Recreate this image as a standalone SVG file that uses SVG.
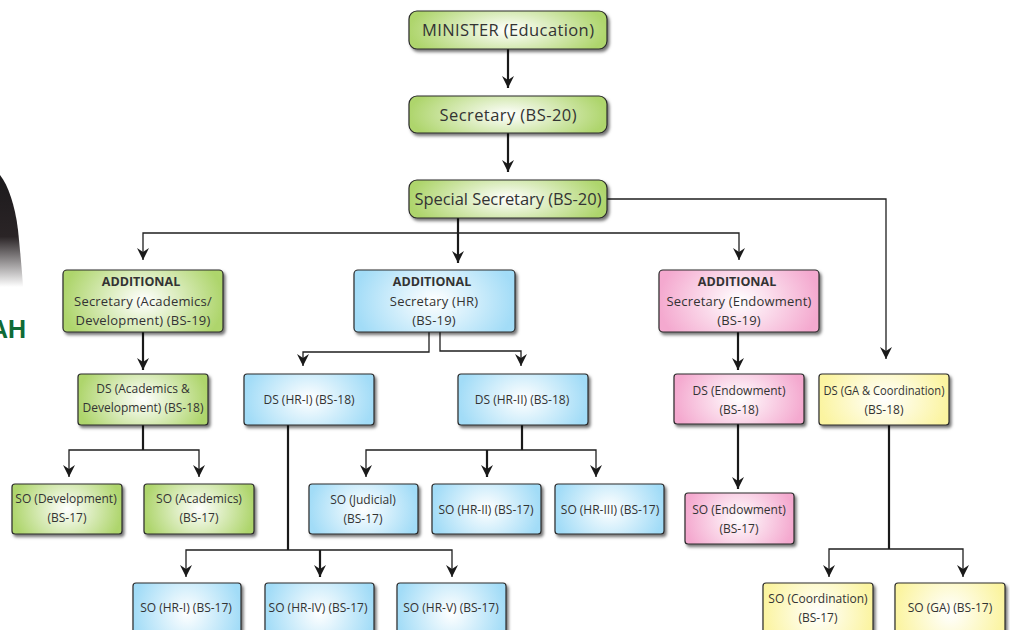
<svg xmlns="http://www.w3.org/2000/svg" width="1010" height="630" viewBox="0 0 1010 630">
<style>
text{font-family:"Open Sans","Noto Sans","Liberation Sans",sans-serif;fill:#333;text-anchor:middle}
.n{stroke:#2a2a2a;stroke-width:1.2;filter:url(#sh)}
.g{fill:url(#gr)}.b{fill:url(#bl)}.p{fill:url(#pk)}.y{fill:url(#ye)}
.t1{font-size:16.5px}.t2{font-size:13px;letter-spacing:.2px}.t3{font-size:12px}.bd{font-weight:700;font-size:12.5px}
.c{fill:none;stroke:#1f1f1f;stroke-width:1.3}.k{fill:none;stroke:#1a1a1a;stroke-width:2.2}
</style>
<defs>
<radialGradient id="gr" gradientTransform="translate(.5 .5) scale(1 1.9) translate(-.5 -.5)"><stop offset="0" stop-color="#fff"/><stop offset="1" stop-color="#aed56c"/></radialGradient>
<radialGradient id="bl" gradientTransform="translate(.5 .5) scale(1 1.9) translate(-.5 -.5)"><stop offset="0" stop-color="#fff"/><stop offset="1" stop-color="#a2dcf7"/></radialGradient>
<radialGradient id="pk" gradientTransform="translate(.5 .5) scale(1 1.9) translate(-.5 -.5)"><stop offset="0" stop-color="#fff"/><stop offset="1" stop-color="#f4a9cf"/></radialGradient>
<radialGradient id="ye" gradientTransform="translate(.5 .5) scale(1 1.9) translate(-.5 -.5)"><stop offset="0" stop-color="#fff"/><stop offset="1" stop-color="#fbf4a0"/></radialGradient>
<linearGradient id="hair" x1="0" y1="0" x2="0" y2="1"><stop offset="0" stop-color="#1c1a1c"/><stop offset="0.55" stop-color="#2a2426"/><stop offset="1" stop-color="#fff"/></linearGradient>
<filter id="sh" x="-10%" y="-15%" width="125%" height="135%"><feDropShadow dx="2" dy="2.5" stdDeviation="1.6" flood-color="#000" flood-opacity="0.55"/></filter>
<marker id="ad" markerUnits="userSpaceOnUse" markerWidth="12" markerHeight="14" refX="6" refY="13" viewBox="0 0 12 14" orient="0"><path d="M0 1 L6 5 L12 1 L6 13Z" fill="#1a1a1a"/></marker>
</defs>
<path d="M0 175 C8 185 15 205 18 230 C20 250 22 270 23 287 L0 287Z" fill="url(#hair)"/>
<text x="26" y="338" style="text-anchor:end;font-weight:700;font-size:25px;fill:#0f6b37;font-family:'Liberation Sans',sans-serif">AH</text>
<g id="connectors">
<path class="k" d="M508 49V88" marker-end="url(#ad)"/>
<path class="k" d="M508 133V172" marker-end="url(#ad)"/>
<path class="k" d="M458 218V263" marker-end="url(#ad)"/>
<path class="c" d="M458 233H143V260" marker-end="url(#ad)"/>
<path class="c" d="M458 233H739V260" marker-end="url(#ad)"/>
<path class="c" d="M607 199H886V359" marker-end="url(#ad)"/>
<path class="k" d="M143 332V370" marker-end="url(#ad)"/>
<path class="c" d="M429 332V352H303V366" marker-end="url(#ad)"/>
<path class="c" d="M440 332V351H521V366" marker-end="url(#ad)"/>
<path class="k" d="M738 332V370" marker-end="url(#ad)"/>
<path class="k" d="M143 425V450"/>
<path class="c" d="M143 450H69V477" marker-end="url(#ad)"/>
<path class="c" d="M143 450H199V477" marker-end="url(#ad)"/>
<path class="k" d="M288 425V550"/>
<path class="c" d="M288 550H186V577" marker-end="url(#ad)"/>
<path class="c" d="M288 550H452V577" marker-end="url(#ad)"/>
<path class="k" d="M320 550V577" marker-end="url(#ad)"/>
<path class="k" d="M522 425V450"/>
<path class="c" d="M522 450H366V477" marker-end="url(#ad)"/>
<path class="c" d="M522 450H596V477" marker-end="url(#ad)"/>
<path class="k" d="M487 450V477" marker-end="url(#ad)"/>
<path class="k" d="M738 424V489" marker-end="url(#ad)"/>
<path class="k" d="M889 425V549"/>
<path class="c" d="M889 549H829V577" marker-end="url(#ad)"/>
<path class="c" d="M889 549H963V577" marker-end="url(#ad)"/>
</g>
<g id="minister"><rect class="n g" x="409" y="11" width="198" height="38" rx="8"/><text class="t1" x="508" y="35.5" textLength="172">MINISTER (Education)</text></g>
<g id="secretary"><rect class="n g" x="409" y="96" width="198" height="37" rx="8"/><text class="t1" x="508" y="120.5" textLength="137">Secretary (BS-20)</text></g>
<g id="special"><rect class="n g" x="409" y="180" width="198" height="38" rx="8"/><text class="t1" x="508" y="204.5" textLength="187">Special Secretary (BS-20)</text></g>
<g id="add-academics"><rect class="n g" x="63" y="270" width="160" height="62" rx="4"/><text class="bd" x="141" y="286">ADDITIONAL</text><text class="t2" x="143" y="306">Secretary (Academics/</text><text class="t2" x="143" y="325">Development) (BS-19)</text></g>
<g id="add-hr"><rect class="n b" x="354" y="270" width="161" height="62" rx="4"/><text class="bd" x="432" y="286">ADDITIONAL</text><text class="t2" x="434" y="306">Secretary (HR)</text><text class="t2" x="434" y="325">(BS-19)</text></g>
<g id="add-endowment"><rect class="n p" x="659" y="270" width="160" height="62" rx="4"/><text class="bd" x="737" y="286">ADDITIONAL</text><text class="t2" x="739" y="306">Secretary (Endowment)</text><text class="t2" x="739" y="325">(BS-19)</text></g>
<g id="ds-academics"><rect class="n g" x="78" y="374" width="130" height="51" rx="3"/><text class="t3" x="143" y="393">DS (Academics &amp;</text><text class="t3" x="143" y="412">Development) (BS-18)</text></g>
<g id="ds-hr1"><rect class="n b" x="244" y="374" width="130" height="51" rx="3"/><text class="t3" x="309" y="404">DS (HR-I) (BS-18)</text></g>
<g id="ds-hr2"><rect class="n b" x="458" y="374" width="130" height="51" rx="3"/><text class="t3" x="522" y="404">DS (HR-II) (BS-18)</text></g>
<g id="ds-endowment"><rect class="n p" x="674" y="374" width="130" height="50" rx="3"/><text class="t3" x="739" y="395">DS (Endowment)</text><text class="t3" x="739" y="414">(BS-18)</text></g>
<g id="ds-ga"><rect class="n y" x="819" y="374" width="130" height="51" rx="3"/><text class="t3" x="884" y="395" textLength="121" lengthAdjust="spacingAndGlyphs">DS (GA &amp; Coordination)</text><text class="t3" x="884" y="414">(BS-18)</text></g>
<g id="so-development"><rect class="n g" x="12" y="484" width="110" height="50" rx="3"/><text class="t3" x="66" y="503">SO (Development)</text><text class="t3" x="67" y="522">(BS-17)</text></g>
<g id="so-academics"><rect class="n g" x="144" y="484" width="110" height="50" rx="3"/><text class="t3" x="199" y="503">SO (Academics)</text><text class="t3" x="199" y="522">(BS-17)</text></g>
<g id="so-judicial"><rect class="n b" x="309" y="484" width="109" height="50" rx="3"/><text class="t3" x="363" y="504">SO (Judicial)</text><text class="t3" x="363" y="523">(BS-17)</text></g>
<g id="so-hr2"><rect class="n b" x="432" y="484" width="109" height="50" rx="3"/><text class="t3" x="486" y="514">SO (HR-II) (BS-17)</text></g>
<g id="so-hr3"><rect class="n b" x="555" y="484" width="109" height="50" rx="3"/><text class="t3" x="610" y="514">SO (HR-III) (BS-17)</text></g>
<g id="so-endowment"><rect class="n p" x="685" y="493" width="109" height="51" rx="3"/><text class="t3" x="739" y="514">SO (Endowment)</text><text class="t3" x="739" y="533">(BS-17)</text></g>
<g id="so-hr1"><rect class="n b" x="133" y="583" width="108" height="60" rx="3"/><text class="t3" x="186" y="612">SO (HR-I) (BS-17)</text></g>
<g id="so-hr4"><rect class="n b" x="265" y="583" width="109" height="60" rx="3"/><text class="t3" x="318" y="612">SO (HR-IV) (BS-17)</text></g>
<g id="so-hr5"><rect class="n b" x="397" y="583" width="109" height="60" rx="3"/><text class="t3" x="451" y="612">SO (HR-V) (BS-17)</text></g>
<g id="so-coordination"><rect class="n y" x="763" y="583" width="110" height="60" rx="3"/><text class="t3" x="818" y="603">SO (Coordination)</text><text class="t3" x="818" y="622">(BS-17)</text></g>
<g id="so-ga"><rect class="n y" x="895" y="583" width="110" height="60" rx="3"/><text class="t3" x="950" y="612">SO (GA) (BS-17)</text></g>
</svg>
